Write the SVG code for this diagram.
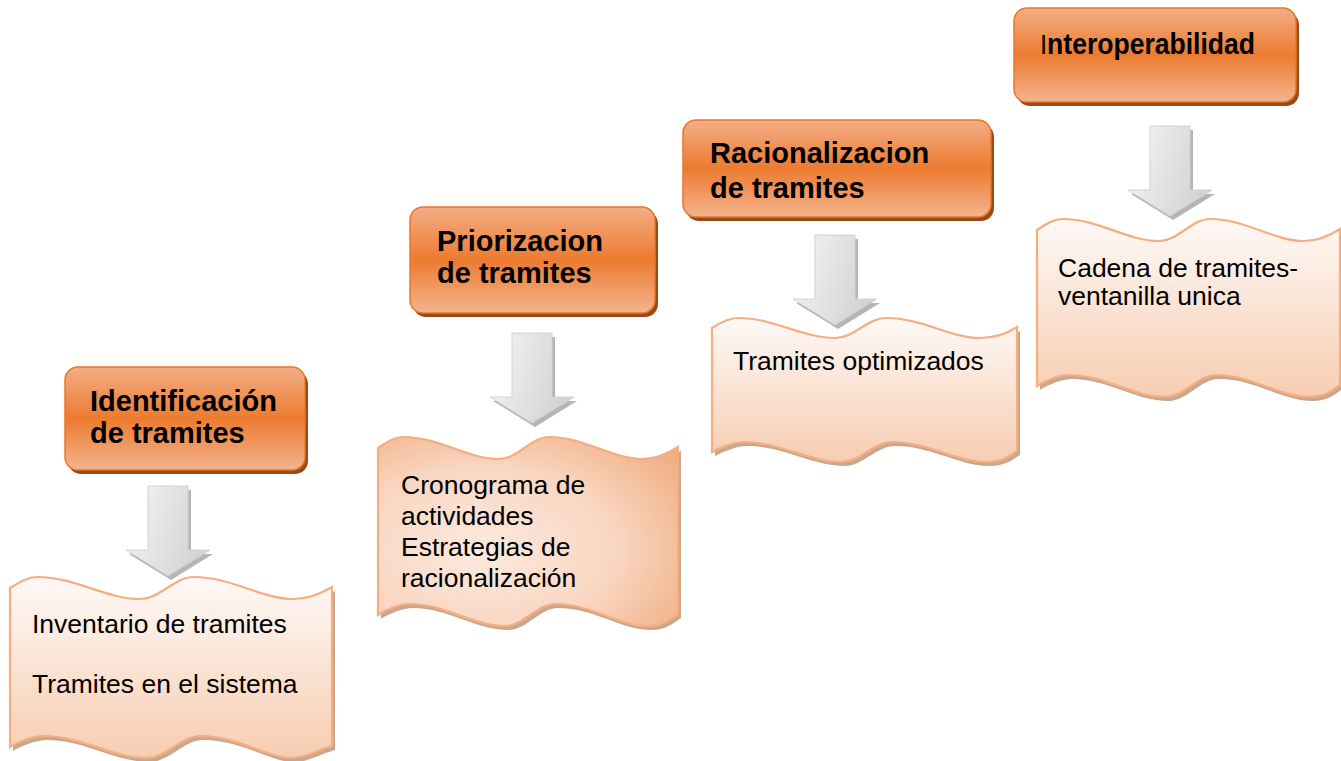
<svg xmlns="http://www.w3.org/2000/svg" xmlns:xlink="http://www.w3.org/1999/xlink" width="1341" height="761" viewBox="0 0 1341 761">
<style>
.box{fill:url(#gOrange);stroke:#e8772c;stroke-width:1.5}
.boxsh{fill:#9a4a16}
.hdr{font-family:"Liberation Sans",Arial,sans-serif;font-weight:bold;font-size:29px;fill:#000}
.txt{font-family:"Liberation Sans",Arial,sans-serif;font-size:26.5px;fill:#000}
.doc{stroke:#f4ae80;stroke-width:2.2}
.docsh{fill:#c9a68e}
.arr{fill:url(#gArrow);stroke:#d2d2d2;stroke-width:1}
.arrsh{fill:#b5b5b5}
</style>
<defs>
<linearGradient id="gOrange" x1="0" y1="0" x2="0" y2="1">
<stop offset="0" stop-color="#f3ae86"/>
<stop offset="0.5" stop-color="#ec7b30"/>
<stop offset="1" stop-color="#f4b48e"/>
</linearGradient>
<linearGradient id="gDoc" x1="0" y1="0" x2="0" y2="1">
<stop offset="0" stop-color="#fef9f6"/>
<stop offset="1" stop-color="#f7cdb1"/>
</linearGradient>
<radialGradient id="gDoc2" cx="0.35" cy="0.6" r="0.8">
<stop offset="0" stop-color="#fde9de"/>
<stop offset="0.55" stop-color="#f9d6c1"/>
<stop offset="1" stop-color="#f0ae82"/>
</radialGradient>
<linearGradient id="gArrow" x1="0" y1="0" x2="1" y2="0.3">
<stop offset="0" stop-color="#f6f6f6"/>
<stop offset="1" stop-color="#d3d3d3"/>
</linearGradient>
<path id="arrow" d="M-20,0 H20 V64 H42 L0,90 L-42,64 H-20 Z"/>
<path id="doc1" d="M10,588 C19.7,582 27.7,577 37.4,577 C76,577 105,599 140.4,599 C159.7,599 174.2,577 193.5,577 C232.2,577 261.2,599 293.4,599 C309.5,599 322.3,593 332,587 L332,746 C312.3,752 305.9,758 289.8,758 C267.6,758 238.6,736 200,736 C180.7,736 166.2,758 146.9,758 C111.4,758 82.5,736 43.8,736 C34.2,736 19.7,741 10,747 Z"/>
<path id="doc2" d="M378,448 C387,442 394.5,437 403.5,437 C439.5,437 466.5,459 499.5,459 C517.5,459 531,437 549,437 C585,437 612,459 642,459 C657,459 669,453 678,447 L678,614 C669,620 663,626 648,626 C618,626 591,604 555,604 C537,604 523.5,626 505.5,626 C472.5,626 445.5,604 409.5,604 C400.5,604 387,609 378,615 Z"/>
<path id="doc3" d="M712,328 C721.2,322 728.8,318 737.9,318 C774.5,318 802,338 835.5,338 C853.8,338 867.6,318 885.9,318 C922.5,318 949.9,338 980.4,338 C995.7,338 1007.9,333 1017,327 L1017,451 C1007.9,457 1001.8,462 986.5,462 C956,462 928.6,442 892,442 C873.7,442 859.9,462 841.6,462 C808.1,462 780.6,442 744,442 C734.9,442 721.2,447 712,452 Z"/>
<path id="doc4" d="M1037,230 C1046.1,224 1053.7,219 1062.8,219 C1099.1,219 1126.4,241 1159.7,241 C1177.9,241 1191.5,219 1209.7,219 C1246.1,219 1273.3,241 1303.6,241 C1318.8,241 1330.9,235 1340,229 L1340,385 C1330.9,391 1324.9,397 1309.7,397 C1279.4,397 1252.1,375 1215.8,375 C1197.6,375 1184,397 1165.8,397 C1132.4,397 1105.2,375 1068.8,375 C1059.7,375 1046.1,380 1037,386 Z"/>
</defs>
<rect width="1341" height="761" fill="#ffffff"/>

<g id="connectors">
<use href="#arrow" class="arrsh" transform="translate(171,490)"/>
<use href="#arrow" class="arr" transform="translate(168,486)"/>
<use href="#arrow" class="arrsh" transform="translate(535,337)"/>
<use href="#arrow" class="arr" transform="translate(532,333)"/>
<use href="#arrow" class="arrsh" transform="translate(838,239)"/>
<use href="#arrow" class="arr" transform="translate(835,235)"/>
<use href="#arrow" class="arrsh" transform="translate(1173,130)"/>
<use href="#arrow" class="arr" transform="translate(1170,126)"/>
</g>

<g id="step1">
<rect class="boxsh" x="68" y="371" width="240" height="103" rx="13"/>
<rect class="box" x="65" y="367" width="240" height="103" rx="13"/>
<text class="hdr" x="90" y="411">Identificación</text>
<text class="hdr" x="90" y="443">de tramites</text>
</g>
<g id="result1">
<use href="#doc1" class="docsh" transform="translate(3,4)"/>
<use href="#doc1" class="doc" fill="url(#gDoc)"/>
<text class="txt" x="32" y="633">Inventario de tramites</text>
<text class="txt" x="32" y="693">Tramites en el sistema</text>
</g>

<g id="step2">
<rect class="boxsh" x="413" y="211" width="245" height="106" rx="13"/>
<rect class="box" x="410" y="207" width="245" height="106" rx="13"/>
<text class="hdr" x="437" y="251">Priorizacion</text>
<text class="hdr" x="437" y="283">de tramites</text>
</g>
<g id="result2">
<use href="#doc2" class="docsh" transform="translate(3,4)"/>
<use href="#doc2" class="doc" fill="url(#gDoc2)"/>
<text class="txt" x="401" y="494">Cronograma de</text>
<text class="txt" x="401" y="525">actividades</text>
<text class="txt" x="401" y="556">Estrategias de</text>
<text class="txt" x="401" y="587">racionalización</text>
</g>

<g id="step3">
<rect class="boxsh" x="686" y="124" width="308" height="97" rx="13"/>
<rect class="box" x="683" y="120" width="308" height="97" rx="13"/>
<text class="hdr" x="710" y="163">Racionalizacion</text>
<text class="hdr" x="710" y="198">de tramites</text>
</g>
<g id="result3">
<use href="#doc3" class="docsh" transform="translate(3,4)"/>
<use href="#doc3" class="doc" fill="url(#gDoc)"/>
<text class="txt" x="733" y="370">Tramites optimizados</text>
</g>

<g id="step4">
<rect class="boxsh" x="1017" y="12" width="282" height="94" rx="13"/>
<rect class="box" x="1014" y="8" width="282" height="94" rx="13"/>
<text class="hdr" x="1040" y="54" font-size="26" textLength="215" lengthAdjust="spacingAndGlyphs"><tspan font-weight="normal" font-size="28">I</tspan>nteroperabilidad</text>
</g>
<g id="result4">
<use href="#doc4" class="docsh" transform="translate(3,4)"/>
<use href="#doc4" class="doc" fill="url(#gDoc)"/>
<text class="txt" x="1058" y="277">Cadena de tramites-</text>
<text class="txt" x="1058" y="305">ventanilla unica</text>
</g>
</svg>
